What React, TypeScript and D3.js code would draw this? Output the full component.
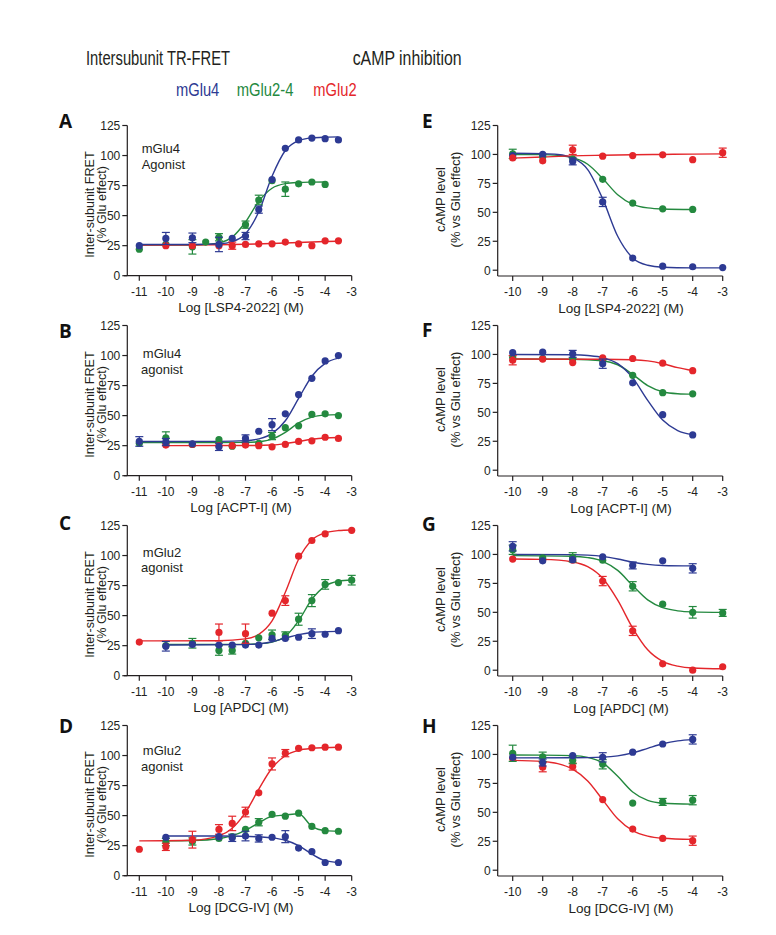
import * as d3 from "d3";

const BLUE = "#2d3a93";
const GREEN = "#24893f";
const RED = "#e4262b";
const INK = "#231f20";

type Pt = [number, number, number]; // log conc, value, sem
type Fp = [number, number]; // fitted curve

// ---- tick labels ----
const leftXTicks = [-11, -10, -9, -8, -7, -6, -5, -4, -3];
const rightXTicks = [-10, -9, -8, -7, -6, -5, -4, -3];
const yTicks = [0, 25, 50, 75, 100, 125];

// ---- A: LSP4-2022, TR-FRET ----
const aBlue: Pt[] = [[-11, 25, 0], [-10, 31, 5], [-9, 31.5, 4], [-8, 26, 6], [-7.5, 31, 0], [-7, 33, 3], [-6.5, 55, 3], [-6, 80, 0], [-5.5, 106, 0], [-5, 113, 0], [-4.5, 114.5, 0], [-4, 114, 0], [-3.5, 113, 0]];
const aGreen: Pt[] = [[-11, 22, 0], [-10, 26, 0], [-9, 24, 6], [-8.5, 28, 0], [-8, 32, 3], [-7, 42.5, 3], [-6.5, 63, 4], [-6, 79, 0], [-5.5, 72, 6], [-5, 76.5, 0], [-4.5, 78, 0], [-4, 76, 0]];
const aRed: Pt[] = [[-10, 25, 0], [-9, 25, 0], [-8, 25, 0], [-7.5, 25, 3], [-7, 26, 0], [-6.5, 26.5, 0], [-6, 26.5, 0], [-5.5, 28, 0], [-5, 26.5, 0], [-4.5, 25, 0], [-4, 29, 0], [-3.5, 29, 0]];
const aBlueFit: Fp[] = [[-11, 26], [-9, 26], [-8, 26.6], [-7.5, 28.4], [-7, 34.9], [-6.5, 53.2], [-6, 82.8], [-5.5, 104.2], [-5, 112.4], [-4.5, 114.7], [-4, 115.3], [-3.5, 115.5]];
const aGreenFit: Fp[] = [[-11, 25.5], [-9, 25.6], [-8.5, 26], [-8, 27.3], [-7.5, 32.1], [-7, 44.7], [-6.5, 62], [-6, 72.8], [-5.5, 76.6], [-5, 77.6], [-4.5, 77.9], [-4, 78]];
const aRedFit: Fp[] = [[-11, 25.5], [-8, 25.8], [-7, 26.2], [-6, 26.8], [-5, 27.6], [-4.5, 28.1], [-4, 28.5], [-3.5, 28.7]];

// ---- B: ACPT-I, TR-FRET ----
const bBlue: Pt[] = [[-11, 28.5, 4], [-10, 28, 3], [-9, 26.5, 0], [-8, 24, 3], [-7, 31, 3], [-6.5, 37, 0], [-6, 42.5, 5], [-5.5, 51.5, 0], [-5, 67.5, 0], [-4.5, 81, 0], [-4, 95.5, 0], [-3.5, 100, 0]];
const bGreen: Pt[] = [[-11, 27, 0], [-10, 31.5, 5], [-9, 26, 0], [-8, 30, 0], [-7.5, 24.5, 0], [-7, 27, 0], [-6.5, 27, 0], [-6, 33, 3], [-5.5, 40, 0], [-5, 41.5, 0], [-4.5, 51, 0], [-4, 51.5, 0], [-3.5, 50, 0]];
const bRed: Pt[] = [[-10, 25.5, 0], [-9, 26, 0], [-8, 25, 0], [-7.5, 25, 0], [-7, 25.5, 0], [-6.5, 25, 0], [-6, 24, 0], [-5.5, 26, 0], [-5, 28.5, 0], [-4.5, 29, 0], [-4, 32, 0], [-3.5, 31, 0]];
const bBlueFit: Fp[] = [[-11, 28.5], [-8, 28.6], [-7, 29.2], [-6.5, 30.7], [-6, 35], [-5.5, 45.7], [-5, 64.3], [-4.5, 82.8], [-4, 93.5], [-3.5, 97.8]];
const bGreenFit: Fp[] = [[-11, 27.5], [-8, 27.5], [-7, 27.7], [-6.5, 28.3], [-6, 30.5], [-5.5, 36.1], [-5, 43.9], [-4.5, 48.7], [-4, 50.4], [-3.5, 50.8]];
const bRedFit: Fp[] = [[-10, 25], [-7, 25.1], [-6, 25.6], [-5.5, 26.7], [-5, 28.5], [-4.5, 30.3], [-4, 31.4], [-3.5, 31.8]];

// ---- C: APDC, TR-FRET ----
const cBlue: Pt[] = [[-10, 24.5, 4], [-9, 26, 0], [-8, 25.5, 0], [-7.5, 25.5, 0], [-7, 25.5, 0], [-6.5, 25.5, 0], [-6, 31, 0], [-5.5, 31, 0], [-5, 32, 0], [-4.5, 35, 4], [-4, 34.5, 0], [-3.5, 37.5, 0]];
const cGreen: Pt[] = [[-10, 25, 0], [-9, 27, 4], [-8, 21, 4], [-7.5, 21, 3], [-7, 27, 0], [-6.5, 31.5, 0], [-6, 34, 4], [-5.5, 33.5, 3], [-5, 47, 5], [-4.5, 62.5, 5], [-4, 76, 4], [-3.5, 77.5, 0], [-3, 79.5, 4]];
const cRed: Pt[] = [[-11, 28, 0], [-8, 36, 7], [-7, 35, 8], [-6, 52, 0], [-5.5, 62.5, 4], [-5, 99.5, 0], [-4.5, 112.5, 0], [-4, 118, 0], [-3, 121, 0]];
const cBlueFit: Fp[] = [[-10, 25.5], [-7, 25.9], [-6.5, 26.5], [-6, 28.3], [-5.5, 31.3], [-5, 34.2], [-4.5, 36], [-4, 36.7], [-3.5, 36.9]];
const cGreenFit: Fp[] = [[-10, 26], [-7, 26.1], [-6.5, 26.5], [-6, 27.9], [-5.5, 32.8], [-5, 45.7], [-4.5, 63.6], [-4, 74.6], [-3.5, 78.6], [-3, 79.6]];
const cRedFit: Fp[] = [[-11, 29], [-8, 29.1], [-7, 30.6], [-6.5, 34.4], [-6, 45.6], [-5.5, 69.4], [-5, 96.9], [-4.5, 112.9], [-4, 118.9], [-3.5, 120.8], [-3, 121.3]];

// ---- D: DCG-IV, TR-FRET ----
const dBlue: Pt[] = [[-10, 32, 0], [-8, 32.5, 0], [-7.5, 31.5, 3], [-7, 33, 4], [-6.5, 31, 3], [-6, 32, 0], [-5.5, 32.5, 5], [-5, 23, 0], [-4.5, 20, 0], [-4, 11, 0], [-3.5, 11, 0]];
const dGreen: Pt[] = [[-10, 28, 3], [-9, 28.5, 3], [-8, 31, 0], [-7.5, 32.5, 0], [-7, 38.5, 0], [-6.5, 44.5, 3], [-6, 51, 0], [-5.5, 49.5, 0], [-5, 52, 0], [-4.5, 41, 0], [-4, 37.5, 0], [-3.5, 37, 0]];
const dRed: Pt[] = [[-11, 22, 0], [-10, 24, 3], [-9, 30, 7], [-8, 38.5, 4], [-7.5, 43.5, 6], [-7, 53, 4], [-6.5, 69, 0], [-6, 93, 5], [-5.5, 102, 3], [-5, 106, 0], [-4.5, 106.5, 0], [-4, 107, 0], [-3.5, 107, 0]];
const dBlueFit: Fp[] = [[-10, 33], [-8, 33], [-7, 32.8], [-6.5, 32.3], [-6, 31.5], [-5.5, 29.5], [-5, 25], [-4.5, 18], [-4, 12.5], [-3.5, 11]];
const dGreenFit: Fp[] = [[-10, 29], [-9, 29.3], [-8, 30.8], [-7.5, 33.3], [-7, 37.8], [-6.5, 44], [-6, 49.5], [-5.5, 50.5], [-5, 51.5], [-4.5, 41], [-4, 37.5], [-3.5, 37]];
const dRedFit: Fp[] = [[-11, 29], [-9, 29.5], [-8, 33.1], [-7.5, 39.5], [-7, 52.7], [-6.5, 72], [-6, 89.6], [-5.5, 99.8], [-5, 104.3], [-4.5, 106], [-4, 106.6], [-3.5, 106.9]];

// ---- E: LSP4-2022, cAMP ----
const eBlue: Pt[] = [[-10, 99, 0], [-9, 100, 0], [-8, 94, 3], [-7, 59, 4], [-6, 10.5, 0], [-5, 3.5, 0], [-4, 3, 0], [-3, 2.3, 0]];
const eGreen: Pt[] = [[-10, 100.5, 4], [-9, 98, 0], [-8, 96, 0], [-7, 78.5, 0], [-6, 58, 0], [-5, 53, 0], [-4, 52.5, 0]];
const eRed: Pt[] = [[-10, 97, 0], [-9, 94.5, 0], [-8, 104, 4], [-7, 98.5, 0], [-6, 99, 0], [-5, 99.7, 0], [-4, 95.5, 0], [-3, 101.5, 4]];
const eBlueFit: Fp[] = [[-10, 101], [-9, 100.7], [-8.5, 100], [-8, 97], [-7.5, 86.9], [-7, 61.6], [-6.5, 29.3], [-6, 10.6], [-5.5, 4.3], [-5, 2.6], [-4, 2.05], [-3, 2]];
const eGreenFit: Fp[] = [[-10, 100], [-9, 99.8], [-8.5, 99.2], [-8, 97.2], [-7.5, 91.5], [-7, 79.2], [-6.5, 65.2], [-6, 56.9], [-5.5, 53.8], [-5, 52.9], [-4, 52.5]];
const eRedFit: Fp[] = [[-10, 96.8], [-9, 97.8], [-8, 98.8], [-7, 99.3], [-6, 99.7], [-5, 100], [-4, 100.3], [-3, 100.5]];

// ---- F: ACPT-I, cAMP ----
const fBlue: Pt[] = [[-10, 101.5, 0], [-9, 102, 0], [-8, 100.5, 3], [-7, 92, 4], [-6, 75.5, 0], [-5, 48, 0], [-4, 30.5, 0]];
const fGreen: Pt[] = [[-10, 97.5, 0], [-9, 96.5, 0], [-8, 96, 0], [-7, 95, 0], [-6, 82, 0], [-5, 67, 0], [-4, 66, 0]];
const fRed: Pt[] = [[-10, 95, 4], [-9, 96, 0], [-8, 93, 0], [-7, 97, 0], [-6, 96.5, 0], [-5, 92.5, 0], [-4, 86, 0]];
const fBlueFit: Fp[] = [[-10, 100], [-8, 99.7], [-7.5, 99.1], [-7, 97.3], [-6.5, 92], [-6, 79.8], [-5.5, 60.4], [-5, 43.3], [-4.5, 34.2], [-4, 30.7]];
const fGreenFit: Fp[] = [[-10, 96], [-8, 95.9], [-7, 94.6], [-6.5, 91.1], [-6, 82.8], [-5.5, 73.1], [-5, 67.8], [-4.5, 66.1], [-4, 65.7]];
const fRedFit: Fp[] = [[-10, 96], [-7, 95.9], [-6, 95.4], [-5.5, 94.4], [-5, 92], [-4.5, 88.6], [-4, 86]];

// ---- G: APDC, cAMP ----
const gBlue: Pt[] = [[-10, 107, 4], [-9, 94.5, 0], [-8, 95.5, 0], [-7, 98, 0], [-6, 90.5, 3], [-5, 94.5, 0], [-4, 88, 4]];
const gGreen: Pt[] = [[-10, 104, 4], [-9, 97, 0], [-8, 97.5, 4], [-7, 95, 0], [-6, 72.5, 4], [-5, 57, 0], [-4, 50, 5], [-3, 49.5, 3]];
const gRed: Pt[] = [[-10, 96, 0], [-9, 95.5, 0], [-8, 95, 0], [-7, 77, 4], [-6, 34, 4], [-5, 5.5, 0], [-4, 0, 0], [-3, 3, 0]];
const gBlueFit: Fp[] = [[-10, 100], [-8, 99.8], [-7.5, 99.4], [-7, 98.3], [-6.5, 96.1], [-6, 93.3], [-5.5, 91.4], [-5, 90.5], [-4, 90.1]];
const gGreenFit: Fp[] = [[-10, 99], [-8, 98.5], [-7.5, 97.3], [-7, 94.1], [-6.5, 86.2], [-6, 73.1], [-5.5, 60.8], [-5, 54], [-4.5, 51.3], [-4, 50.4], [-3, 50]];
const gRedFit: Fp[] = [[-10, 96], [-9, 95.7], [-8, 93.5], [-7.5, 89.4], [-7, 79.4], [-6.5, 60.5], [-6, 36.4], [-5.5, 17.6], [-5, 7.6], [-4.5, 3.5], [-4, 1.9], [-3, 1.2]];

// ---- H: DCG-IV, cAMP ----
const hBlue: Pt[] = [[-10, 97.5, 0], [-9, 93, 3], [-8, 99, 0], [-7, 97.5, 4], [-6, 102, 0], [-5, 109, 0], [-4, 113, 4]];
const hGreen: Pt[] = [[-10, 101, 7], [-9, 98, 4], [-8, 95, 3], [-7, 91.5, 4], [-6, 58, 0], [-5, 59, 3], [-4, 60.5, 4]];
const hRed: Pt[] = [[-10, 96.5, 0], [-9, 89, 4], [-8, 89.5, 3], [-7, 61, 0], [-6, 35.5, 0], [-5, 27.5, 0], [-4, 25.5, 4]];
const hBlueFit: Fp[] = [[-10, 97], [-8, 97.1], [-7, 97.7], [-6.5, 98.8], [-6, 101.3], [-5.5, 105.3], [-5, 109.2], [-4.5, 111.7], [-4, 112.8]];
const hGreenFit: Fp[] = [[-10, 99.5], [-9, 99.4], [-8, 99], [-7.5, 97.5], [-7, 92.7], [-6.5, 81.1], [-6, 67.6], [-5.5, 60.3], [-5, 57.9], [-4, 57.1]];
const hRedFit: Fp[] = [[-10, 94.9], [-9, 93.9], [-8.5, 92.1], [-8, 87.3], [-7.5, 77], [-7, 60.8], [-6.5, 44.4], [-6, 34.2], [-5.5, 29.4], [-5, 27.6], [-4, 26.6]];

// ---- layout ----
const FONT = "'Liberation Sans', Arial, Helvetica, sans-serif";
const COLS = [
  { axisX: 127.3, xStart: 124, x0: 139.3, x1: 351.7, xDomain: [-11, -3], yMin: 0, top: 125.5, bottom: 275.7, ticks: leftXTicks, titleX: 241, yTitle: ["Inter-subunit FRET", "(% Glu effect)"], yTitleX: [93.5, 105.5], yTitleDy: 79, yTitleSize: 12.6 },
  { axisX: 497.7, xStart: 497.7, x0: 512.7, x1: 722.7, xDomain: [-10, -3], yMin: -5, top: 125.5, bottom: 276, ticks: rightXTicks, titleX: 621, yTitle: ["cAMP level", "(% vs Glu effect)"], yTitleX: [444.5, 460], yTitleDy: 74, yTitleSize: 13 },
];
const ROW_STEP = 200;

type Series = { pts: Pt[]; fit: Fp[]; color: string };
type Panel = { letter: string; letterY: number; col: number; row: number; xTitle: string; note?: string[]; noteY?: number; noteStart?: boolean; series: Series[] };

const panels: Panel[] = [
  { letter: "A", letterY: 128.3, col: 0, row: 0, xTitle: "Log [LSP4-2022] (M)", note: ["mGlu4", "Agonist"], noteY: 153.3, noteStart: true,
    series: [{ pts: aGreen, fit: aGreenFit, color: GREEN }, { pts: aRed, fit: aRedFit, color: RED }, { pts: aBlue, fit: aBlueFit, color: BLUE }] },
  { letter: "B", letterY: 338, col: 0, row: 1, xTitle: "Log [ACPT-I] (M)", note: ["mGlu4", "agonist"], noteY: 358.3,
    series: [{ pts: bGreen, fit: bGreenFit, color: GREEN }, { pts: bRed, fit: bRedFit, color: RED }, { pts: bBlue, fit: bBlueFit, color: BLUE }] },
  { letter: "C", letterY: 530, col: 0, row: 2, xTitle: "Log [APDC] (M)", note: ["mGlu2", "agonist"], noteY: 556.7,
    series: [{ pts: cGreen, fit: cGreenFit, color: GREEN }, { pts: cBlue, fit: cBlueFit, color: BLUE }, { pts: cRed, fit: cRedFit, color: RED }] },
  { letter: "D", letterY: 733, col: 0, row: 3, xTitle: "Log [DCG-IV] (M)", note: ["mGlu2", "agonist"], noteY: 755,
    series: [{ pts: dGreen, fit: dGreenFit, color: GREEN }, { pts: dRed, fit: dRedFit, color: RED }, { pts: dBlue, fit: dBlueFit, color: BLUE }] },
  { letter: "E", letterY: 128.3, col: 1, row: 0, xTitle: "Log [LSP4-2022] (M)",
    series: [{ pts: eGreen, fit: eGreenFit, color: GREEN }, { pts: eBlue, fit: eBlueFit, color: BLUE }, { pts: eRed, fit: eRedFit, color: RED }] },
  { letter: "F", letterY: 336.7, col: 1, row: 1, xTitle: "Log [ACPT-I] (M)",
    series: [{ pts: fGreen, fit: fGreenFit, color: GREEN }, { pts: fRed, fit: fRedFit, color: RED }, { pts: fBlue, fit: fBlueFit, color: BLUE }] },
  { letter: "G", letterY: 530.5, col: 1, row: 2, xTitle: "Log [APDC] (M)",
    series: [{ pts: gRed, fit: gRedFit, color: RED }, { pts: gGreen, fit: gGreenFit, color: GREEN }, { pts: gBlue, fit: gBlueFit, color: BLUE }] },
  { letter: "H", letterY: 733.3, col: 1, row: 3, xTitle: "Log [DCG-IV] (M)",
    series: [{ pts: hRed, fit: hRedFit, color: RED }, { pts: hGreen, fit: hGreenFit, color: GREEN }, { pts: hBlue, fit: hBlueFit, color: BLUE }] },
];

function PanelView({ p }: { p: Panel }) {
  const c = COLS[p.col];
  const off = p.row * ROW_STEP;
  const x = d3.scaleLinear().domain(c.xDomain).range([c.x0, c.x1]);
  const y = d3.scaleLinear().domain([c.yMin, 125]).range([c.bottom + off, c.top + off]);
  const line = d3
    .line<Fp>()
    .x((d) => x(d[0]))
    .y((d) => y(d[1]))
    .curve(d3.curveMonotoneX);
  const axisY = y(c.yMin);
  const midY = c.top + off + c.yTitleDy;

  return (
    <g>
      <text x={p.col === 0 ? 59 : 422} y={p.letterY} fontFamily="'Open Sans', sans-serif" fontWeight={700} fontSize={19} fill="#111">
        {p.letter}
      </text>

      {/* y axis */}
      <line x1={c.axisX} x2={c.axisX} y1={axisY} y2={y(125)} stroke={INK} strokeWidth={1.2} />
      {yTicks.map((t) => (
        <g key={t}>
          <line x1={c.axisX - 5} x2={c.axisX} y1={y(t)} y2={y(t)} stroke={INK} strokeWidth={1.2} />
          <text x={c.axisX - 7} y={y(t)} dy="0.36em" textAnchor="end" fontFamily={FONT} fontSize={12} fill={INK}>
            {t}
          </text>
        </g>
      ))}

      {/* x axis */}
      <line x1={c.xStart} x2={x(c.xDomain[1])} y1={axisY} y2={axisY} stroke={INK} strokeWidth={1.2} />
      {c.ticks.map((t) => (
        <g key={t}>
          <line x1={x(t)} x2={x(t)} y1={axisY} y2={axisY + 5} stroke={INK} strokeWidth={1.2} />
          <text x={x(t)} y={axisY + 20.3} textAnchor="middle" fontFamily={FONT} fontSize={12} fill={INK}>
            {t}
          </text>
        </g>
      ))}
      <text x={c.titleX} y={axisY + 36.5} textAnchor="middle" fontFamily={FONT} fontSize={13.5} fill={INK}>
        {p.xTitle}
      </text>

      {/* y title */}
      {c.yTitle.map((s, i) => (
        <text
          key={s}
          transform={`translate(${c.yTitleX[i]},${midY}) rotate(-90)`}
          textAnchor="middle"
          fontFamily={FONT}
          fontSize={c.yTitleSize}
          fill={INK}
        >
          {s}
        </text>
      ))}

      {p.note &&
        p.note.map((s, i) => (
          <text
            key={s}
            x={p.noteStart ? 141.7 : 162}
            y={(p.noteY ?? 0) + i * 15.5}
            textAnchor={p.noteStart ? "start" : "middle"}
            fontFamily={FONT}
            fontSize={13}
            fill={INK}
          >
            {s}
          </text>
        ))}

      {/* fitted curves */}
      {p.series.map((s, i) => (
        <path key={i} d={line(s.fit) ?? ""} fill="none" stroke={s.color} strokeWidth={1.4} />
      ))}

      {/* data points with SEM bars */}
      {p.series.map((s, i) => (
        <g key={i} fill={s.color} stroke={s.color}>
          {s.pts.map((d, j) => (
            <g key={j}>
              {d[2] > 0 && (
                <g strokeWidth={1.2}>
                  <line x1={x(d[0])} x2={x(d[0])} y1={y(d[1] - d[2])} y2={y(d[1] + d[2])} />
                  <line x1={x(d[0]) - 4} x2={x(d[0]) + 4} y1={y(d[1] + d[2])} y2={y(d[1] + d[2])} />
                  <line x1={x(d[0]) - 4} x2={x(d[0]) + 4} y1={y(d[1] - d[2])} y2={y(d[1] - d[2])} />
                </g>
              )}
              <circle cx={x(d[0])} cy={y(d[1])} r={3.6} stroke="none" />
            </g>
          ))}
        </g>
      ))}
    </g>
  );
}

export default function App() {
  return (
    <svg
      width={776}
      height={935}
      viewBox="0 0 776 935"
      style={{ position: "absolute", left: 0, top: 0, background: "#fff" }}
    >
      <rect width={776} height={935} fill="#fff" />
      <text x={86} y={65} fontFamily={FONT} fontSize={20.5} fill={INK} textLength={144} lengthAdjust="spacingAndGlyphs">
        Intersubunit TR-FRET
      </text>
      <text x={352.7} y={65} fontFamily={FONT} fontSize={20.5} fill={INK} textLength={109} lengthAdjust="spacingAndGlyphs">
        cAMP inhibition
      </text>
      <text x={176} y={95.5} fontFamily={FONT} fontSize={17.5} fill={BLUE} textLength={43.3} lengthAdjust="spacingAndGlyphs">
        mGlu4
      </text>
      <text x={236.7} y={95.5} fontFamily={FONT} fontSize={17.5} fill={GREEN} textLength={56.7} lengthAdjust="spacingAndGlyphs">
        mGlu2-4
      </text>
      <text x={313.3} y={95.5} fontFamily={FONT} fontSize={17.5} fill={RED} textLength={43.3} lengthAdjust="spacingAndGlyphs">
        mGlu2
      </text>
      {panels.map((p) => (
        <PanelView key={p.letter} p={p} />
      ))}
    </svg>
  );
}
